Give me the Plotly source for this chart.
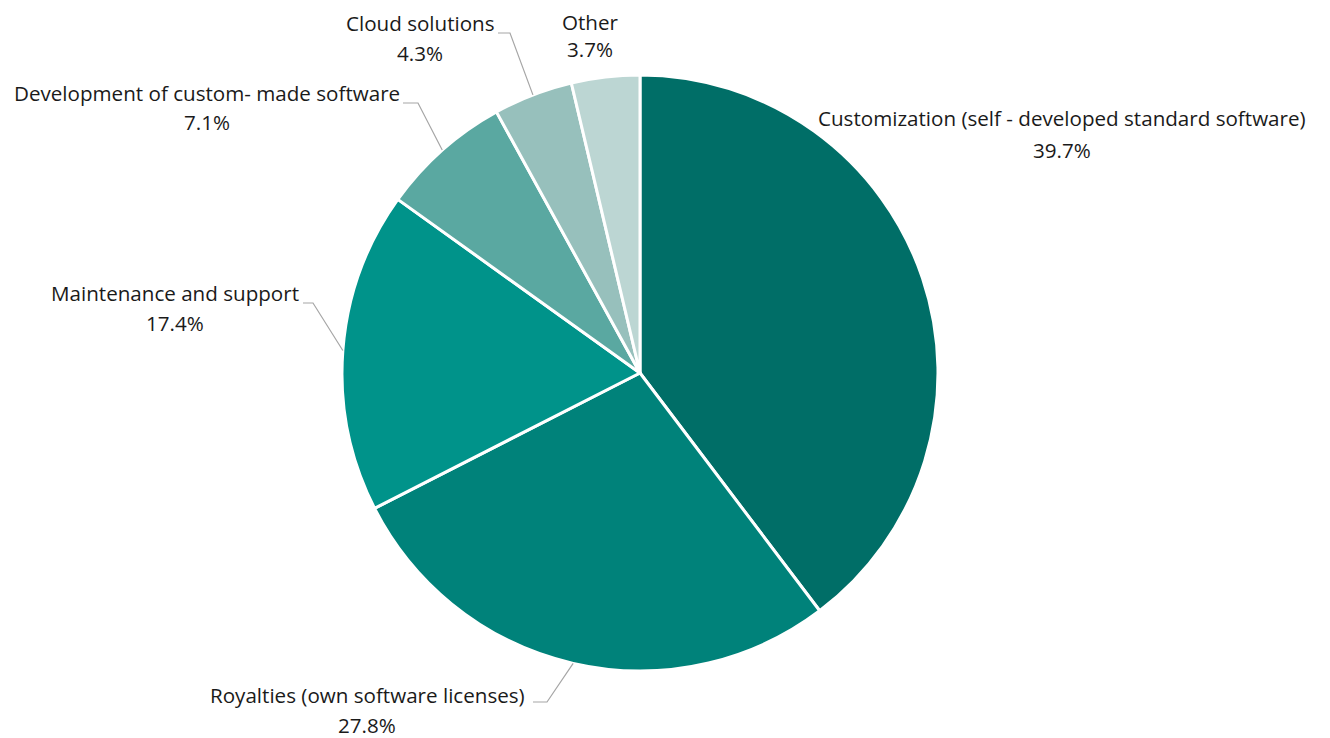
import math
import plotly.graph_objects as go

# ---------------- data ----------------
categories = [
    "Customization (self - developed standard software)",
    "Royalties (own software licenses)",
    "Maintenance and support",
    "Development of custom- made software",
    "Cloud solutions",
    "Other",
]
shares = [39.7, 27.8, 17.4, 7.1, 4.3, 3.7]

# ---------------- style / layout ----------------
colors = ["#006E67", "#00827A", "#00938A", "#5AA8A1", "#97C0BC", "#BCD6D3"]
FONT = "Open Sans"
FSIZE = 20.6
TXT = "#1a1a1a"
LINE = "#a6a6a6"

OFF = 8            # page body margin
W, H = 1322, 730   # figure size
CX, CY, R = 640, 373, 298   # pie centre / radius in page pixels

# label centres (x, name line y, pct line y) in page pixels
label_pos = [
    (1062, 118, 150),
    (367, 695, 725),
    (175, 293, 323),
    (207, 93, 122),
    (420, 23, 53),
    (590, 22, 49),
]
# leader lines: (elbow x, elbow y, end x) ; None = no leader
leaders = [
    None,
    (547, 702, 533),
    (313, 303, 303),
    (418, 103, 403),
    (510, 33, 498),
    None,
]


def px(x):
    return (x - OFF) / W


def py(y):
    return 1 - (y - OFF) / H


fig = go.Figure()
fig.add_trace(go.Pie(
    labels=categories,
    values=shares,
    sort=False,
    direction="clockwise",
    rotation=0,
    marker=dict(colors=colors, line=dict(color="white", width=3)),
    textinfo="none",
    hoverinfo="label+percent",
    showlegend=False,
    domain=dict(x=[px(CX - R), px(CX + R)], y=[py(CY + R), py(CY - R)]),
))

total = sum(shares)
cum = 0.0
annotations = []
shapes = []
for i, (cat, v) in enumerate(zip(categories, shares)):
    mid = (cum + v / 2) / total * 2 * math.pi
    cum += v
    ex = CX + R * math.sin(mid)
    ey = CY - R * math.cos(mid)
    lx, ly1, ly2 = label_pos[i]
    annotations.append(dict(x=px(lx), y=py(ly1), xref="paper", yref="paper",
                            text=cat, showarrow=False, xanchor="center", yanchor="middle",
                            borderpad=0,
                            font=dict(family=FONT, size=FSIZE, color=TXT)))
    annotations.append(dict(x=px(lx), y=py(ly2), xref="paper", yref="paper",
                            text=f"{v:.1f}%", showarrow=False, xanchor="center", yanchor="middle",
                            borderpad=0,
                            font=dict(family=FONT, size=FSIZE, color=TXT)))
    if leaders[i] is not None:
        bx, by, tx = leaders[i]
        path = f"M {px(ex)},{py(ey)} L {px(bx)},{py(by)} L {px(tx)},{py(by)}"
        shapes.append(dict(type="path", xref="paper", yref="paper", path=path,
                           line=dict(color=LINE, width=1.2)))

fig.update_layout(
    width=W, height=H,
    margin=dict(l=0, r=0, t=0, b=0),
    paper_bgcolor="white", plot_bgcolor="white",
    annotations=annotations,
    shapes=shapes,
    font=dict(family=FONT, size=FSIZE, color=TXT),
)

fig.write_html("out.html")
